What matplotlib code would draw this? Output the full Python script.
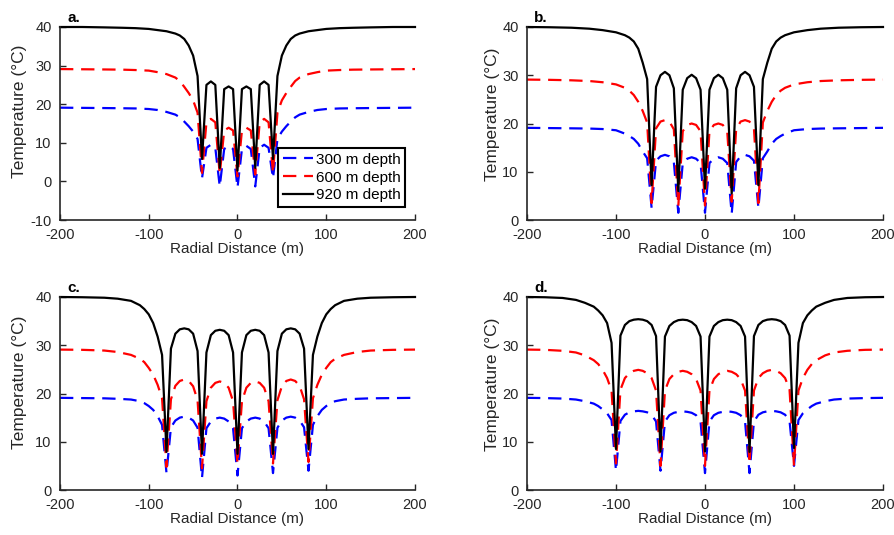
import matplotlib
matplotlib.use('Agg')
import matplotlib.pyplot as plt

plt.rcParams['font.family'] = ['Liberation Sans', 'DejaVu Sans']
plt.rcParams['axes.unicode_minus'] = False

# ---- panel a: wells at -40, -20, 0, 20, 40 ----
xa = [-200, -175, -150, -130, -115, -100, -90, -80, -70, -65, -60, -55, -50, -45] \
    + list(range(-40, 41, 5)) \
    + [45, 50, 55, 60, 65, 70, 80, 90, 100, 115, 130, 150, 175, 200]
black_a = [40.0, 40.0, 39.9, 39.8, 39.7, 39.5, 39.2, 38.9, 38.3, 37.8, 36.9, 35.2, 32.6, 27.3,
           5.8, 25.0, 25.9, 25.0, 3.5, 23.9, 24.6, 23.9, 2.8, 23.9, 24.6, 23.9, 3.5, 25.0, 25.9, 25.0, 5.8,
           27.3, 32.6, 35.2, 36.9, 37.8, 38.3, 38.9, 39.2, 39.5, 39.7, 39.8, 39.9, 40.0, 40.0]
red_a = [29.1, 29.05, 29.0, 28.95, 28.85, 28.7, 28.3, 27.8, 26.9, 26.0, 24.5, 22.9, 21.0, 17.8,
         2.2, 15.3, 16.2, 15.3, 1.8, 13.2, 13.9, 13.2, 1.3, 13.2, 13.9, 13.2, 1.8, 15.3, 16.2, 15.3, 2.2,
         17.8, 21.0, 22.9, 24.5, 26.0, 26.9, 27.8, 28.3, 28.7, 28.85, 28.95, 29.0, 29.05, 29.1]
blue_a = [19.1, 19.05, 19.0, 18.95, 18.9, 18.75, 18.5, 18.0, 17.3, 16.6, 15.5, 14.3, 12.9, 11.0,
          0.8, 8.7, 9.5, 8.7, -1.3, 8.4, 9.2, 8.4, -1.6, 8.4, 9.2, 8.4, -1.3, 8.7, 9.5, 8.7, 0.8,
          11.0, 12.9, 14.3, 15.5, 16.6, 17.3, 18.0, 18.5, 18.75, 18.9, 18.95, 19.0, 19.05, 19.1]

# ---- panel b: wells at -60, -30, 0, 30, 60 ----
xb = [-200, -175, -150, -130, -115, -100, -90, -85, -80, -75, -70, -65] \
    + list(range(-60, 61, 5)) \
    + [65, 70, 75, 80, 85, 90, 100, 115, 130, 150, 175, 200]
black_b = [40.0, 39.95, 39.85, 39.65, 39.35, 38.9, 38.3, 37.8, 37.0, 35.5, 32.6, 29.2,
           7.2, 27.6, 30.0, 30.7, 30.0, 27.3, 6.0, 27.0, 29.4, 30.1, 29.4, 27.0, 6.5,
           27.0, 29.4, 30.1, 29.4, 27.0, 5.5, 27.3, 30.0, 30.7, 30.0, 27.6, 7.2,
           29.2, 32.6, 35.5, 37.0, 37.8, 38.3, 38.9, 39.35, 39.65, 39.85, 39.95, 40.0]
red_b = [29.1, 29.05, 28.95, 28.8, 28.55, 28.1, 27.4, 26.8, 25.9, 24.5, 22.6, 20.2,
         3.5, 19.0, 20.4, 20.7, 20.4, 18.8, 2.8, 18.4, 19.7, 20.0, 19.7, 18.4, 3.0,
         18.4, 19.7, 20.0, 19.7, 18.4, 3.8, 18.8, 20.4, 20.7, 20.4, 19.0, 3.5,
         20.2, 22.6, 24.5, 25.9, 26.8, 27.4, 28.1, 28.55, 28.8, 28.95, 29.05, 29.1]
blue_b = [19.1, 19.05, 19.0, 18.95, 18.85, 18.6, 17.9, 17.4, 16.8, 15.8, 14.2, 12.8,
          2.5, 12.3, 13.2, 13.5, 13.2, 12.0, 1.5, 11.8, 12.7, 13.0, 12.7, 11.8, 1.5,
          11.8, 12.7, 13.0, 12.7, 11.8, 1.3, 12.0, 13.2, 13.5, 13.2, 12.3, 2.5,
          12.8, 14.2, 15.8, 16.8, 17.4, 17.9, 18.6, 18.85, 18.95, 19.0, 19.05, 19.1]

# ---- panel c: wells at -80, -40, 0, 40, 80 ----
xc = [-200, -175, -150, -135, -120, -110, -105, -100, -95, -90, -85] \
    + list(range(-80, 81, 5)) \
    + [85, 90, 95, 100, 105, 110, 120, 135, 150, 175, 200]
black_c = [40.0, 39.95, 39.85, 39.65, 39.2, 38.3, 37.5, 36.4, 34.6, 31.8, 28.0,
           7.9, 29.3, 32.4, 33.3, 33.5, 33.3, 32.4, 28.8, 7.5, 28.5, 32.1, 33.0, 33.2, 33.0, 32.1, 28.5,
           7.5, 28.5, 32.1, 33.0, 33.2, 33.0, 32.1, 28.5, 7.5, 28.8, 32.4, 33.3, 33.5, 33.3, 32.4, 29.3, 8.5,
           28.0, 31.8, 34.6, 36.4, 37.5, 38.3, 39.2, 39.65, 39.85, 39.95, 40.0]
red_c = [29.1, 29.05, 28.9, 28.6, 28.0, 27.2, 26.5, 25.3, 23.9, 21.8, 19.0,
         4.8, 18.8, 21.6, 22.6, 22.9, 22.6, 21.5, 18.6, 4.5, 18.4, 21.2, 22.2, 22.5, 22.2, 21.2, 18.4,
         5.5, 18.4, 21.2, 22.2, 22.5, 22.2, 21.2, 18.4, 5.5, 18.6, 21.5, 22.6, 22.9, 22.6, 21.6, 18.8, 5.8,
         19.0, 21.8, 23.9, 25.3, 26.5, 27.2, 28.0, 28.6, 28.9, 29.05, 29.1]
blue_c = [19.1, 19.05, 19.0, 18.9, 18.75, 18.4, 18.0, 17.4, 16.6, 15.3, 13.5,
          3.5, 13.0, 14.4, 15.0, 15.2, 15.0, 14.4, 12.9, 2.5, 12.8, 14.2, 14.8, 15.0, 14.8, 14.2, 12.8,
          3.0, 12.8, 14.2, 14.8, 15.0, 14.8, 14.2, 12.8, 3.5, 12.9, 14.4, 15.0, 15.2, 15.0, 14.4, 13.0, 4.0,
          13.5, 15.3, 16.6, 17.4, 18.0, 18.4, 18.75, 18.9, 19.0, 19.05, 19.1]

# ---- panel d: wells at -100, -50, 0, 50, 100 ----
xd = [-200, -180, -160, -145, -135, -125, -120, -115, -110, -105] \
    + list(range(-100, 101, 5)) \
    + [105, 110, 115, 120, 125, 135, 145, 160, 180, 200]
black_d = [40.0, 39.95, 39.8, 39.4, 38.8, 38.0, 37.2, 36.2, 34.6, 30.5,
           8.5, 32.0, 34.2, 35.0, 35.3, 35.4, 35.3, 35.0, 34.2, 31.9,
           8.0, 31.8, 34.0, 34.8, 35.2, 35.3, 35.2, 34.8, 34.0, 31.8,
           8.0, 31.8, 34.0, 34.8, 35.2, 35.3, 35.2, 34.8, 34.0, 31.8,
           7.9, 31.9, 34.2, 35.0, 35.3, 35.4, 35.3, 35.0, 34.2, 32.0, 8.7,
           30.5, 34.6, 36.2, 37.2, 38.0, 38.8, 39.4, 39.8, 39.95, 40.0]
red_d = [29.1, 29.05, 28.85, 28.5, 27.9, 26.9, 26.1, 24.9, 23.2, 20.6,
         5.5, 20.8, 23.2, 24.2, 24.7, 24.9, 24.7, 24.2, 23.2, 20.6,
         5.0, 20.6, 23.0, 24.0, 24.5, 24.7, 24.5, 24.0, 23.0, 20.6,
         5.0, 20.6, 23.0, 24.0, 24.5, 24.7, 24.5, 24.0, 23.0, 20.6,
         5.5, 20.6, 23.2, 24.2, 24.7, 24.9, 24.7, 24.2, 23.2, 20.8, 5.0,
         20.6, 23.2, 24.9, 26.1, 26.9, 27.9, 28.5, 28.85, 29.05, 29.1]
blue_d = [19.1, 19.05, 18.95, 18.75, 18.4, 17.9, 17.4, 16.7, 15.9, 14.5,
          4.0, 14.3, 15.6, 16.1, 16.3, 16.4, 16.3, 16.1, 15.6, 14.2,
          4.0, 14.2, 15.5, 16.0, 16.2, 16.3, 16.2, 16.0, 15.5, 14.2,
          3.5, 14.2, 15.5, 16.0, 16.2, 16.3, 16.2, 16.0, 15.5, 14.2,
          3.5, 14.2, 15.6, 16.1, 16.3, 16.4, 16.3, 16.1, 15.6, 14.3, 5.0,
          14.5, 15.9, 16.7, 17.4, 17.9, 18.4, 18.75, 18.95, 19.05, 19.1]

labels = ['300 m depth', '600 m depth', '920 m depth']
xticks = [-200, -100, 0, 100, 200]
GRAY = '#262626'

fig = plt.figure(figsize=(8.95, 5.35), dpi=100)

# tag, axes rect, ylabel anchor (axes coords), data
panels = [
    ('a.', [60/895, 315/535, 355/895, 193/535], (-0.092, 0.565), xa, blue_a, red_a, black_a, -10),
    ('b.', [527/895, 315/535, 356/895, 193/535], (-0.077, 0.55), xb, blue_b, red_b, black_b, 0),
    ('c.', [60/895, 45/535, 355/895, 193/535], (-0.092, 0.56), xc, blue_c, red_c, black_c, 0),
    ('d.', [527/895, 45/535, 356/895, 193/535], (-0.077, 0.55), xd, blue_d, red_d, black_d, 0),
]

dash = (0, (6, 3.5))
for tag, pos, ylab_xy, x, blue, red, black, ymin in panels:
    ax = fig.add_axes(pos)
    ax.plot(x, blue, color='b', lw=1.6, ls=dash, label=labels[0], clip_on=False)
    ax.plot(x, red, color='r', lw=1.6, ls=dash, label=labels[1], clip_on=False)
    ax.plot(x, black, color='k', lw=1.6, label=labels[2], clip_on=False)
    ax.set_xlim(-200, 200)
    ax.set_ylim(ymin, 40)
    ax.set_xticks(xticks)
    ax.set_yticks(range(ymin, 41, 10))
    ax.spines['top'].set_visible(False)
    ax.spines['right'].set_visible(False)
    for s in ['left', 'bottom']:
        ax.spines[s].set_linewidth(1.2)
        ax.spines[s].set_color(GRAY)
    ax.tick_params(direction='in', length=4, width=1, colors=GRAY, labelsize=10.5)
    ax.tick_params(axis='x', pad=5.5)
    ax.tick_params(axis='y', pad=6)
    ax.set_xlabel('Radial Distance (m)', fontsize=11, color=GRAY, labelpad=0)
    ax.set_ylabel('Temperature (°C)', fontsize=12.5, color=GRAY)
    ax.yaxis.set_label_coords(*ylab_xy)
    ax.text(0.02, 1.025, tag, transform=ax.transAxes, fontsize=11,
            fontweight='bold', va='baseline', ha='left')
    if tag == 'a.':
        leg = ax.legend(loc='lower right', bbox_to_anchor=(1 - 10/355, 13/193),
                        borderaxespad=0, fontsize=11, fancybox=False,
                        edgecolor='k', framealpha=1, handlelength=2.0,
                        handletextpad=0.15, labelspacing=0.25, borderpad=0.3)
        leg.get_frame().set_linewidth(1.5)

fig.savefig('out.png', dpi=100)
